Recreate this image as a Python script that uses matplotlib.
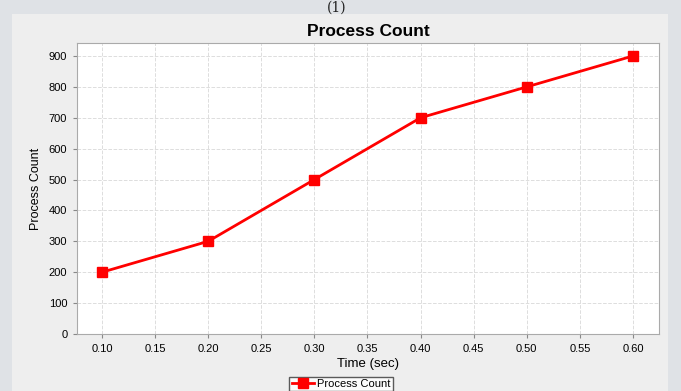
import matplotlib.pyplot as plt
from matplotlib.patches import Rectangle

time_sec = [0.10, 0.20, 0.30, 0.40, 0.50, 0.60]
process_count = [200, 300, 500, 700, 800, 900]
x_ticks = [0.10, 0.15, 0.20, 0.25, 0.30, 0.35, 0.40, 0.45, 0.50, 0.55, 0.60]
y_ticks = [0, 100, 200, 300, 400, 500, 600, 700, 800, 900]

plt.rcParams['font.family'] = ['Liberation Sans', 'DejaVu Sans']

W, H = 681, 391
fig = plt.figure(figsize=(W / 100, H / 100), dpi=100)
fig.patch.set_facecolor('#dfe2e6')

# gray chart panel, kept behind the axes
fig.patches.append(Rectangle((12 / W, 0), (668 - 12) / W, (H - 14) / H,
                             transform=fig.transFigure, facecolor='#eeeeee',
                             edgecolor='none', zorder=-10))
fig.text(337 / W, 1 - 1 / H, "(1)", ha='center', va='top', fontsize=10,
         family='DejaVu Serif', color='#222222')

ax = fig.add_axes([77 / W, 1 - 334 / H, (659 - 77) / W, (334 - 43) / H])
ax.set_facecolor('white')
ax.plot(time_sec, process_count, color='#ff0000', lw=2, marker='s', ms=6.5,
        label='Process Count')

ax.set_xlim(0.0765, 0.6245)
ax.set_ylim(0, 942)
ax.set_xticks(x_ticks)
ax.set_xticklabels([f"{v:.2f}" for v in x_ticks])
ax.set_yticks(y_ticks)
ax.tick_params(labelsize=8, length=3, color='#888888', pad=4)
ax.grid(True, color='#dddddd', ls='--', lw=0.7)
for s in ax.spines.values():
    s.set_color('#aaaaaa')
ax.set_xlabel("Time (sec)", fontsize=9.5, labelpad=3)
ax.set_ylabel("Process Count", fontsize=9, labelpad=5)
ax.set_title("Process Count", fontsize=12.5, fontweight='bold', pad=5)

leg = fig.legend(loc='upper center', bbox_to_anchor=(341 / W, 1 - 377 / H),
                 fontsize=8, frameon=True, fancybox=False, handlelength=2,
                 borderpad=0.2, handletextpad=0.3, borderaxespad=0)
leg.get_frame().set_edgecolor('#333333')
leg.get_frame().set_facecolor('white')

fig.savefig('out.png', dpi=100, facecolor=fig.get_facecolor())
